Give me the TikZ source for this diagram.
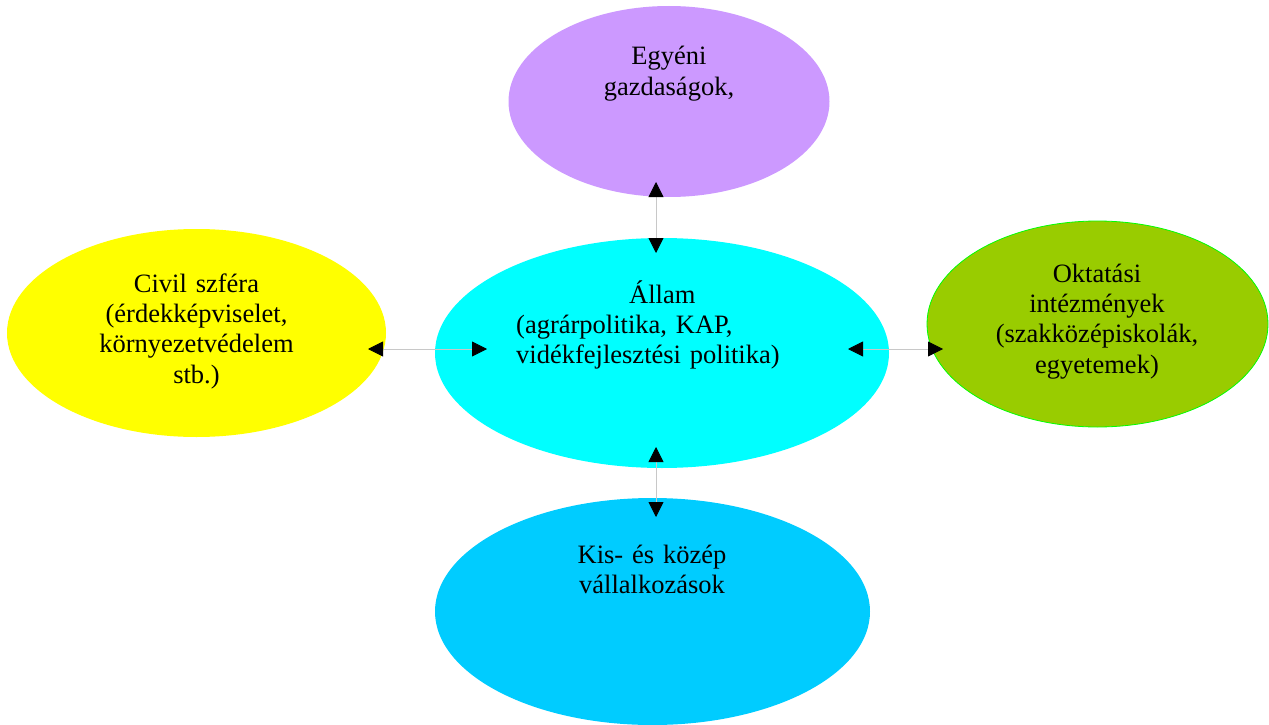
\documentclass[tikz,border=0pt]{standalone}
\usepackage{fontspec}
\setmainfont{Liberation Serif}
\usepackage{tikz}
\usetikzlibrary{shapes.geometric, arrows.meta}

\definecolor{lila}{HTML}{CC99FF}
\definecolor{ciankek}{HTML}{00FFFF}
\definecolor{sarga}{HTML}{FFFF00}
\definecolor{zold}{HTML}{99CC00}
\definecolor{elenk}{HTML}{00FF00}
\definecolor{egkek}{HTML}{00CCFF}
\definecolor{szurke}{HTML}{C8C8C8}

\begin{document}
\begin{tikzpicture}[x=1pt, y=-1pt,
	bubble/.style={ellipse, inner sep=0pt, draw=none},
	felirat/.style={anchor=base, inner sep=0pt, text width=300pt, align=center,
		font=\fontsize{26.5pt}{30.4pt}\selectfont},
	nyil/.style={draw=szurke, line width=0.8pt,
		{Triangle[black,length=15pt,width=15pt]}-{Triangle[black,length=15pt,width=15pt]}}]

	\useasboundingbox (0,0) rectangle (1269,725);

	% draw ellipses
	\node[bubble, fill=lila, minimum width=321pt, minimum height=191pt] (egyeni) at (669,101.5) {};
	\node[bubble, fill=ciankek, minimum width=454pt, minimum height=230pt] (allam) at (662,353) {};
	\node[bubble, fill=sarga, minimum width=379pt, minimum height=208pt] (civil) at (196.5,333) {};
	\node[bubble, fill=zold, draw=elenk, line width=0.8pt, minimum width=341pt, minimum height=206pt] (oktatas) at (1097.5,324) {};
	\node[bubble, fill=egkek, minimum width=435pt, minimum height=227pt] (kkv) at (652.5,611.5) {};

	% draw texts
	\node[felirat] (egyeni_t) at (669,65) {Egyéni\\gazdaságok,};
	\node[felirat, align=left, anchor=base west] (allam_t) at (516,303)
		{\hspace*{113pt}Állam\\(agrárpolitika, KAP,\\vidékfejlesztési politika)};
	\node[felirat] (civil_t) at (196.5,292) {Civil szféra\\(érdekképviselet,\\környezetvédelem\\stb.)};
	\node[felirat] (oktatas_t) at (1097,282) {Oktatási\\intézmények\\(szakközépiskolák,\\egyetemek)};
	\node[felirat] (kkv_t) at (652,563) {Kis- és közép\\vállalkozások};

	% draw arrows
	\coordinate (fel_a) at (656,182);
	\coordinate (fel_b) at (656,253);
	\coordinate (le_a) at (656,447);
	\coordinate (le_b) at (656,517);
	\coordinate (bal_a) at (368,349);
	\coordinate (bal_b) at (487,349);
	\coordinate (jobb_a) at (848,349);
	\coordinate (jobb_b) at (943,349);
	\foreach \a/\b in {fel_a/fel_b, le_a/le_b, bal_a/bal_b, jobb_a/jobb_b}
	{
		\draw[nyil] (\a) -- (\b);
	}

\end{tikzpicture}
\end{document}
